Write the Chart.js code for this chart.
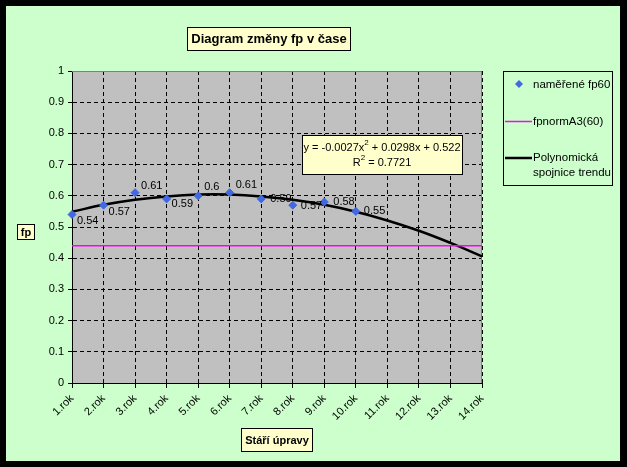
<!DOCTYPE html>
<html lang="cs">
<head>
    <meta charset="UTF-8">
    <title>Diagram změny fp v čase</title>
    <script src="https://cdn.jsdelivr.net/npm/chart.js"></script>
    <style>
        html, body {
            margin: 0;
            padding: 0;
            background-color: #000;
        }
        #wrap {
            width: 627px;
            height: 467px;
        }
    </style>
</head>
<body>
    <div id="wrap"><canvas id="fpChart" width="627" height="467"></canvas></div>
    <script>
        const categories = ["1.rok", "2.rok", "3.rok", "4.rok", "5.rok", "6.rok", "7.rok",
                            "8.rok", "9.rok", "10.rok", "11.rok", "12.rok", "13.rok", "14.rok"];
        const measuredFp60 = [0.54, 0.57, 0.61, 0.59, 0.6, 0.61, 0.59, 0.57, 0.58, 0.55];
        const normFp = [0.44, 0.44, 0.44, 0.44, 0.44, 0.44, 0.44, 0.44, 0.44, 0.44, 0.44, 0.44, 0.44, 0.44];
        const trendValues = [0.549, 0.571, 0.587, 0.598, 0.604, 0.604, 0.598, 0.587, 0.571, 0.549, 0.521, 0.488, 0.449, 0.406];
        const yTicks = [0, 0.1, 0.2, 0.3, 0.4, 0.5, 0.6, 0.7, 0.8, 0.9, 1];

        const FONT = "Arial, 'Liberation Sans', sans-serif";
        const BG = "#CCFFCC";
        const NOTE = "#FFFFCC";

        // label offsets from the marker (dx, dy), placed by hand like in the sheet
        const labelOffsets = [[5, 6], [5, 7], [6, -7], [5, 5], [6, -9], [6, -8], [9, 0], [8, 1], [9, 0], [8, 0]];

        function noteBox(ctx, x, y, w, h) {
            ctx.fillStyle = NOTE;
            ctx.fillRect(x, y, w, h);
            ctx.strokeStyle = "#000";
            ctx.lineWidth = 1;
            ctx.strokeRect(x + 0.5, y + 0.5, w - 1, h - 1);
            ctx.fillStyle = "#000";
        }

        const decorPlugin = {
            id: "decor",
            beforeDraw(chart) {
                const ctx = chart.ctx;
                const a = chart.chartArea;
                ctx.save();
                ctx.fillStyle = "#000";
                ctx.fillRect(0, 0, chart.width, chart.height);
                ctx.fillStyle = BG;
                ctx.fillRect(6, 6, 614, 455);
                ctx.fillStyle = "#C0C0C0";
                ctx.fillRect(a.left, a.top, a.right - a.left, a.bottom - a.top);
                ctx.restore();
            },
            beforeDatasetsDraw(chart) {
                const ctx = chart.ctx;
                const a = chart.chartArea;
                ctx.save();
                ctx.strokeStyle = "#808080";
                ctx.lineWidth = 1;
                ctx.beginPath();
                ctx.moveTo(a.left, a.top + 0.5);
                ctx.lineTo(a.right - 0.5, a.top + 0.5);
                ctx.lineTo(a.right - 0.5, a.bottom);
                ctx.stroke();
                ctx.restore();
            },
            afterDatasetsDraw(chart) {
                const ctx = chart.ctx;
                const meta = chart.getDatasetMeta(0);
                ctx.save();
                ctx.font = "11px " + FONT;
                ctx.fillStyle = "#000";
                ctx.textAlign = "left";
                ctx.textBaseline = "middle";
                meta.data.forEach((pt, i) => {
                    const off = labelOffsets[i] || [6, 0];
                    ctx.fillText(String(measuredFp60[i]), pt.x + off[0], pt.y + off[1]);
                });
                ctx.restore();
            },
            afterDraw(chart) {
                const ctx = chart.ctx;
                ctx.save();
                ctx.textBaseline = "middle";

                // title
                noteBox(ctx, 187, 27, 164, 24);
                ctx.font = "bold 13px " + FONT;
                ctx.textAlign = "center";
                ctx.fillText("Diagram změny fp v čase", 269, 39.5);

                // axis titles
                noteBox(ctx, 17, 224, 18, 16);
                ctx.font = "bold 11px " + FONT;
                ctx.fillText("fp", 26, 232.5);
                noteBox(ctx, 241, 428, 72, 24);
                ctx.fillText("Stáří úpravy", 277, 440.5);

                // equation box
                noteBox(ctx, 302, 135, 161, 40);
                ctx.font = "11px " + FONT;
                const eq1 = "y = -0.0027x";
                const eq2 = " + 0.0298x + 0.522";
                const w1 = ctx.measureText(eq1).width;
                const w2 = ctx.measureText(eq2).width;
                ctx.font = "8px " + FONT;
                const wSup = ctx.measureText("2").width;
                let x0 = 382 - (w1 + w2 + wSup) / 2;
                ctx.textAlign = "left";
                ctx.font = "11px " + FONT;
                ctx.fillText(eq1, x0, 147.5);
                ctx.font = "8px " + FONT;
                ctx.fillText("2", x0 + w1, 143);
                ctx.font = "11px " + FONT;
                ctx.fillText(eq2, x0 + w1 + wSup, 147.5);
                const r1 = "R";
                const r2 = " = 0.7721";
                const wr1 = ctx.measureText(r1).width;
                const wr2 = ctx.measureText(r2).width;
                x0 = 382 - (wr1 + wr2 + wSup) / 2;
                ctx.fillText(r1, x0, 162.5);
                ctx.font = "8px " + FONT;
                ctx.fillText("2", x0 + wr1, 158);
                ctx.font = "11px " + FONT;
                ctx.fillText(r2, x0 + wr1 + wSup, 162.5);

                // legend
                ctx.fillStyle = BG;
                ctx.fillRect(503, 71, 110, 115);
                ctx.strokeStyle = "#000";
                ctx.lineWidth = 1;
                ctx.strokeRect(503.5, 71.5, 109, 114);
                ctx.fillStyle = "#4169E1";
                ctx.beginPath();
                ctx.moveTo(519, 80);
                ctx.lineTo(523, 84);
                ctx.lineTo(519, 88);
                ctx.lineTo(515, 84);
                ctx.closePath();
                ctx.fill();
                ctx.strokeStyle = "#FF00FF";
                ctx.lineWidth = 1.5;
                ctx.beginPath();
                ctx.moveTo(505, 121.5);
                ctx.lineTo(532, 121.5);
                ctx.stroke();
                ctx.strokeStyle = "#000";
                ctx.lineWidth = 2.5;
                ctx.beginPath();
                ctx.moveTo(505, 158);
                ctx.lineTo(532, 158);
                ctx.stroke();
                ctx.fillStyle = "#000";
                ctx.font = "11.5px " + FONT;
                ctx.textAlign = "left";
                ctx.fillText("naměřené fp60", 533, 84.5);
                ctx.fillText("fpnormA3(60)", 533, 121.5);
                ctx.fillText("Polynomická", 533, 157.5);
                ctx.fillText("spojnice trendu", 533, 172.5);

                ctx.restore();
            }
        };

        const ctx = document.getElementById("fpChart").getContext("2d");
        const fpChart = new Chart(ctx, {
            type: "line",
            data: {
                labels: categories,
                datasets: [
                    {
                        label: "naměřené fp60",
                        data: measuredFp60,
                        showLine: false,
                        pointStyle: "rectRot",
                        pointRadius: 4,
                        pointBackgroundColor: "#4169E1",
                        pointBorderColor: "#4169E1",
                        pointBorderWidth: 1
                    },
                    {
                        label: "fpnormA3(60)",
                        data: normFp,
                        borderColor: "#FF00FF",
                        borderWidth: 1.5,
                        pointRadius: 0,
                        fill: false
                    },
                    {
                        label: "Polynomická spojnice trendu",
                        data: trendValues,
                        borderColor: "#000",
                        borderWidth: 2.5,
                        pointRadius: 0,
                        tension: 0.4,
                        fill: false
                    }
                ]
            },
            options: {
                responsive: false,
                animation: false,
                layout: {
                    padding: { left: 0, top: 71, right: 145, bottom: 0 }
                },
                plugins: {
                    legend: { display: false },
                    tooltip: { enabled: false },
                    title: { display: false }
                },
                scales: {
                    x: {
                        offset: false,
                        afterFit(scale) { scale.height = 84; },
                        grid: {
                            color: "#000",
                            tickBorderDash: [],
                            tickLength: 5,
                            tickColor: "#000"
                        },
                        border: { color: "#000", width: 1, dash: [4, 3] },
                        ticks: {
                            font: { family: FONT, size: 11 },
                            color: "#000",
                            minRotation: 45,
                            maxRotation: 45,
                            padding: 4,
                            autoSkip: false
                        }
                    },
                    y: {
                        min: 0,
                        max: 1,
                        afterFit(scale) { scale.width = 72; },
                        afterBuildTicks(scale) {
                            scale.ticks = yTicks.map(v => ({ value: v }));
                        },
                        grid: {
                            color: "#000",
                            tickBorderDash: [],
                            tickLength: 4,
                            tickColor: "#000"
                        },
                        border: { color: "#000", width: 1, dash: [4, 3] },
                        ticks: {
                            font: { family: FONT, size: 11 },
                            color: "#000",
                            padding: 4,
                            callback: v => String(v)
                        }
                    }
                }
            },
            plugins: [decorPlugin]
        });
    </script>
</body>
</html>
